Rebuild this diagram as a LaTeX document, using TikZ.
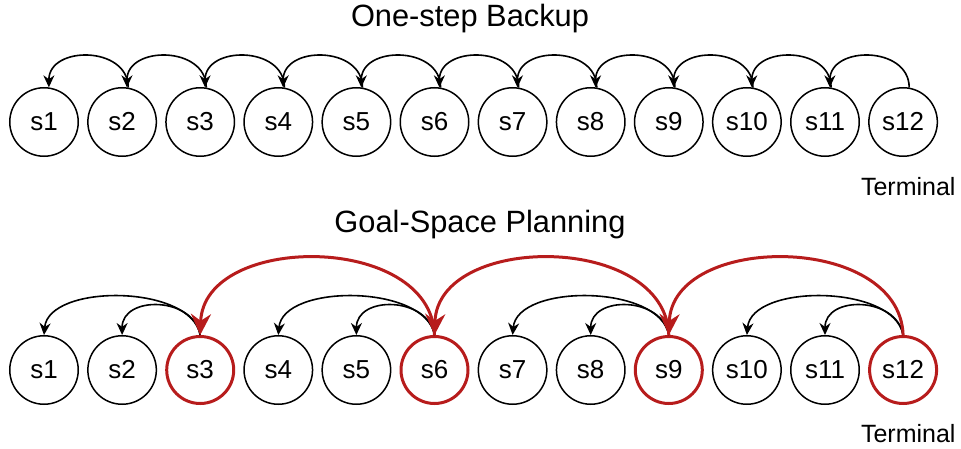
\documentclass[tikz,border=0pt]{standalone}
\usepackage{fontspec}
\setmainfont{Liberation Sans}
\usetikzlibrary{arrows.meta}
\definecolor{goalred}{RGB}{183,28,28}

\begin{document}
\begin{tikzpicture}[x=1pt, y=1pt,
    st/.style={draw=black, circle, line width=1.5pt, minimum size=68.5pt,
               inner sep=0pt, font=\fontsize{26}{30}\selectfont},
    goal/.style={st, draw=goalred, line width=3pt, minimum size=67pt},
    arr/.style={-{Stealth[length=12pt, width=11pt]}, line width=1.6pt},
    garr/.style={-{Stealth[length=21pt, width=20pt]}, line width=3pt, goalred},
    ttl/.style={anchor=base, font=\fontsize{30.8}{36}\selectfont},
    term/.style={anchor=base east, font=\fontsize{25}{30}\selectfont}
]
\useasboundingbox (0,0) rectangle (961,448);

% titles
\node[ttl] (ttlone) at (470,421) {One-step Backup};
\node[ttl] (ttlgsp) at (480,216) {Goal-Space Planning};

% one-step row
\foreach \i in {1,...,12}
    \node[st] (a\i) at ({44+78.1*(\i-1)},326) {s\i};
\node[term] (terma) at (959,253) {Terminal};
\foreach \i [count=\j] in {2,...,12}
    \draw[arr] (a\i.80) to[out=90, in=90, looseness=1.35] (a\j.82);

% goal-space row
\foreach \i in {1,...,12}{
    \pgfmathtruncatemacro{\r}{mod(\i,3)}
    \ifnum\r=0
        \node[goal] (b\i) at ({44+78.1*(\i-1)},78) {s\i};
    \else
        \node[st] (b\i) at ({44+78.1*(\i-1)},78) {s\i};
    \fi
}
\node[term] (termb) at (959,6) {Terminal};
\foreach \g/\p/\q in {3/1/2, 6/4/5, 9/7/8, 12/10/11}{
    \draw[arr] (b\g.north) to[out=100, in=85, looseness=0.85] (b\p.north);
    \draw[arr] (b\g.north) to[out=100, in=90, looseness=1.3] (b\q.north);
}
\foreach \g/\h in {6/3, 9/6, 12/9}
    \draw[garr] (b\g.north) to[out=92, in=88, looseness=1.12] (b\h.north);
\end{tikzpicture}
\end{document}
